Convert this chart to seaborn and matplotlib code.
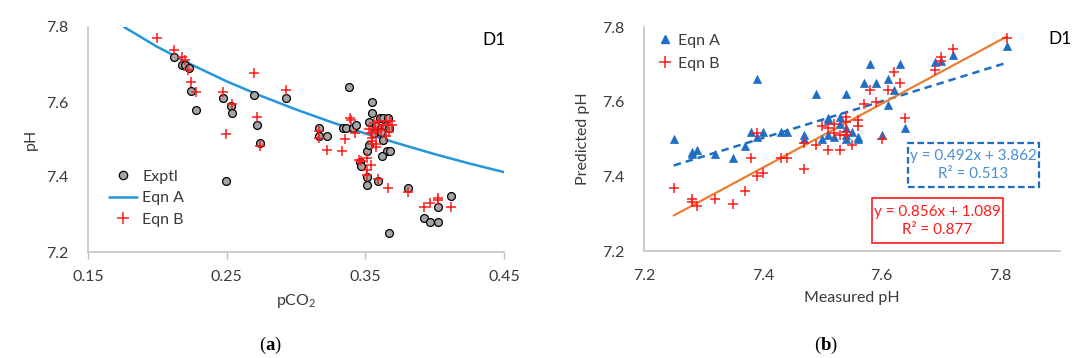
import matplotlib
matplotlib.use("Agg")
import matplotlib.pyplot as plt
import seaborn as sns
from matplotlib.patches import Rectangle
from matplotlib.lines import Line2D

# (a) pH vs pCO2
exptl_pco2 = [0.212, 0.2176, 0.2196, 0.223, 0.224, 0.228, 0.247, 0.253, 0.254, 0.2495,
              0.270, 0.272, 0.274, 0.293, 0.3166, 0.3166, 0.322, 0.334, 0.336, 0.3385,
              0.341, 0.343, 0.346, 0.347, 0.351, 0.351, 0.351, 0.353, 0.353, 0.3545,
              0.355, 0.3605, 0.363, 0.3665, 0.358, 0.361, 0.364, 0.367, 0.356, 0.361,
              0.363, 0.3655, 0.368, 0.362, 0.359, 0.367, 0.381, 0.392, 0.3966, 0.4026,
              0.4026, 0.4118]
exptl_ph = [7.72, 7.70, 7.70, 7.69, 7.63, 7.58, 7.61, 7.59, 7.57, 7.39,
            7.62, 7.54, 7.49, 7.61, 7.53, 7.51, 7.51, 7.53, 7.53, 7.64,
            7.53, 7.54, 7.44, 7.43, 7.40, 7.38, 7.47, 7.486, 7.546, 7.60,
            7.57, 7.558, 7.558, 7.558, 7.535, 7.53, 7.535, 7.53, 7.518, 7.521,
            7.50, 7.47, 7.47, 7.457, 7.389, 7.25, 7.37, 7.29, 7.28, 7.28,
            7.32, 7.35]

eqnb_pco2 = [0.1998, 0.212, 0.218, 0.2196, 0.222, 0.224, 0.228, 0.247, 0.2536, 0.2495,
             0.270, 0.272, 0.274, 0.293, 0.3166, 0.3166, 0.322, 0.3334, 0.335, 0.339,
             0.340, 0.3425, 0.3456, 0.347, 0.351, 0.354, 0.351, 0.351, 0.353, 0.354,
             0.355, 0.3545, 0.355, 0.358, 0.358, 0.356, 0.357, 0.358, 0.360, 0.361,
             0.363, 0.365, 0.366, 0.367, 0.368, 0.369, 0.365, 0.359, 0.3665, 0.381,
             0.392, 0.3966, 0.4026, 0.4026, 0.4118]
eqnb_ph = [7.771, 7.738, 7.719, 7.712, 7.685, 7.654, 7.628, 7.626, 7.594, 7.515,
           7.678, 7.56, 7.482, 7.632, 7.522, 7.504, 7.471, 7.469, 7.501, 7.557,
           7.551, 7.517, 7.446, 7.442, 7.45, 7.433, 7.418, 7.406, 7.528, 7.517,
           7.504, 7.497, 7.488, 7.488, 7.48, 7.545, 7.53, 7.52, 7.55, 7.525,
           7.54, 7.55, 7.54, 7.52, 7.55, 7.54, 7.51, 7.395, 7.371, 7.36,
           7.32, 7.33, 7.344, 7.338, 7.32]

eqna_pco2 = [0.176, 0.20, 0.225, 0.25, 0.275, 0.30, 0.325, 0.35, 0.375, 0.40, 0.425, 0.45]
eqna_ph = [7.800, 7.747, 7.699, 7.655, 7.616, 7.580, 7.547, 7.516, 7.488, 7.461, 7.436, 7.413]

# (b) predicted vs measured
meas_a = [7.25, 7.28, 7.28, 7.29, 7.32, 7.35, 7.37, 7.38, 7.39, 7.39,
          7.40, 7.43, 7.44, 7.47, 7.47, 7.49, 7.50, 7.51, 7.51, 7.51,
          7.52, 7.53, 7.53, 7.54, 7.54, 7.54, 7.54, 7.55, 7.56, 7.56,
          7.57, 7.58, 7.59, 7.60, 7.61, 7.61, 7.62, 7.63, 7.64, 7.69,
          7.70, 7.72, 7.81]
pred_a = [7.50, 7.46, 7.465, 7.47, 7.46, 7.45, 7.48, 7.52, 7.66, 7.505,
          7.52, 7.52, 7.52, 7.51, 7.50, 7.62, 7.50, 7.557, 7.55, 7.51,
          7.505, 7.56, 7.54, 7.62, 7.53, 7.51, 7.50, 7.52, 7.50, 7.505,
          7.65, 7.70, 7.65, 7.51, 7.66, 7.59, 7.63, 7.70, 7.53, 7.705,
          7.71, 7.725, 7.75]

meas_b = [7.25, 7.28, 7.28, 7.29, 7.32, 7.35, 7.37, 7.38, 7.39, 7.39,
          7.40, 7.43, 7.44, 7.47, 7.47, 7.49, 7.50, 7.51, 7.51, 7.52,
          7.52, 7.53, 7.53, 7.54, 7.54, 7.54, 7.54, 7.55, 7.56, 7.56,
          7.57, 7.58, 7.59, 7.60, 7.61, 7.62, 7.63, 7.64, 7.69, 7.70,
          7.70, 7.72, 7.81]
pred_b = [7.37, 7.34, 7.33, 7.32, 7.34, 7.325, 7.36, 7.45, 7.40, 7.515,
          7.41, 7.45, 7.45, 7.42, 7.49, 7.485, 7.535, 7.53, 7.47, 7.515,
          7.54, 7.47, 7.51, 7.56, 7.545, 7.52, 7.51, 7.485, 7.55, 7.535,
          7.595, 7.63, 7.60, 7.50, 7.63, 7.68, 7.65, 7.555, 7.685, 7.72,
          7.71, 7.74, 7.77]

trend_x = [7.25, 7.81]
trend_a = [7.429, 7.704]
trend_b = [7.295, 7.774]

eq_a = "y = 0.492x + 3.862\nR² = 0.513"
eq_b = "y = 0.856x + 1.089\nR² = 0.877"

BLUE_CURVE = "#2596DA"
BLUE = "#1F6EC4"
BLUE_TXT = "#4A8FD4"
ORANGE = "#ED7D31"
RED = "#FF1A1A"
GRID = "#BFBFBF"
TXT = "#3A3A3A"

sns.set_theme(style="white")
plt.rcParams["font.family"] = ["Lato", "DejaVu Sans"]
plt.rcParams["mathtext.fontset"] = "custom"
plt.rcParams["mathtext.rm"] = "Lato"
plt.rcParams["mathtext.it"] = "Lato:italic"
plt.rcParams["mathtext.bf"] = "Liberation Serif:bold"

FS = 11.5

fig = plt.figure(figsize=(10.8, 3.58), dpi=100)
ax1 = fig.add_axes([88 / 1080, 1 - 252 / 358, 416 / 1080, 225 / 358])
ax2 = fig.add_axes([644 / 1080, 1 - 251 / 358, 416 / 1080, 224 / 358])

# ---- panel (a)
sns.lineplot(x=eqna_pco2, y=eqna_ph, ax=ax1, color=BLUE_CURVE, lw=1.8, zorder=2)
sns.scatterplot(x=exptl_pco2, y=exptl_ph, ax=ax1, marker="o", s=32, color="#A5A5A5",
                edgecolor="black", linewidth=0.9, zorder=3)
sns.scatterplot(x=eqnb_pco2, y=eqnb_ph, ax=ax1, marker="+", s=45, color=RED,
                linewidth=1.1, zorder=4)
ax1.set_xlim(0.15, 0.45)
ax1.set_ylim(7.2, 7.8)
ax1.set_xticks([0.15, 0.25, 0.35, 0.45])
ax1.set_xticklabels(["0.15", "0.25", "0.35", "0.45"])
ax1.set_yticks([7.2, 7.4, 7.6, 7.8])
ax1.set_yticklabels(["7.2", "7.4", "7.6", "7.8"])
ax1.set_xlabel("pCO$_2$", fontsize=FS, color=TXT, labelpad=6)
ax1.set_ylabel("pH", fontsize=FS, color=TXT, labelpad=6)
ax1.tick_params(axis="x", length=5, width=1, color=GRID, pad=8, labelsize=FS, labelcolor=TXT, direction="out", bottom=True)
ax1.tick_params(axis="y", length=0, pad=14, labelsize=FS, labelcolor=TXT)
ax1.text(0.443, 7.765, "D1", fontsize=12.5, color="black", ha="center", va="center")

h1 = [Line2D([], [], marker="o", ls="", mfc="#A5A5A5", mec="black", ms=6, mew=0.9),
      Line2D([], [], color=BLUE_CURVE, lw=1.8),
      Line2D([], [], marker="+", ls="", color=RED, ms=8, mew=1.1)]
ax1.legend(h1, ["Exptl", "Eqn A", "Eqn B"], loc="upper left", bbox_to_anchor=(0.05, 0.365),
           frameon=False, fontsize=FS, handlelength=1.75, handletextpad=0.35,
           labelspacing=0.45, borderpad=0, borderaxespad=0, labelcolor=TXT)

# ---- panel (b)
sns.lineplot(x=trend_x, y=trend_a, ax=ax2, color=BLUE, lw=1.8, linestyle=(0, (3, 2)), zorder=2)
sns.lineplot(x=trend_x, y=trend_b, ax=ax2, color=ORANGE, lw=1.6, zorder=2)
sns.scatterplot(x=meas_a, y=pred_a, ax=ax2, marker="^", s=34, color=BLUE,
                edgecolor=BLUE, linewidth=0.5, zorder=3)
sns.scatterplot(x=meas_b, y=pred_b, ax=ax2, marker="+", s=45, color=RED,
                linewidth=1.1, zorder=4)
ax2.set_xlim(7.2, 7.9)
ax2.set_ylim(7.2, 7.8)
ax2.set_xticks([7.2, 7.4, 7.6, 7.8])
ax2.set_xticklabels(["7.2", "7.4", "7.6", "7.8"])
ax2.set_yticks([7.2, 7.4, 7.6, 7.8])
ax2.set_yticklabels(["7.2", "7.4", "7.6", "7.8"])
ax2.set_xlabel("Measured pH", fontsize=FS, color=TXT, labelpad=6)
ax2.set_ylabel("Predicted pH", fontsize=FS, color=TXT, labelpad=9)
ax2.tick_params(axis="x", length=0, pad=13, labelsize=FS, labelcolor=TXT)
ax2.tick_params(axis="y", length=0, pad=14, labelsize=FS, labelcolor=TXT)
ax2.text(7.9, 7.768, "D1", fontsize=12.5, color="black", ha="center", va="center")

h2 = [Line2D([], [], marker="^", ls="", color=BLUE, ms=6),
      Line2D([], [], marker="+", ls="", color=RED, ms=8, mew=1.1)]
ax2.legend(h2, ["Eqn A", "Eqn B"], loc="upper left", bbox_to_anchor=(0.035, 0.97),
           frameon=False, fontsize=FS, handlelength=0.8, handletextpad=0.4,
           labelspacing=0.55, borderpad=0, borderaxespad=0, labelcolor=TXT)

# equation boxes
ax2.add_patch(Rectangle((0.634, 0.286), 0.315, 0.196, transform=ax2.transAxes, fill=False,
                        edgecolor=BLUE, lw=1.6, linestyle=(0, (3, 1.5)), zorder=5))
ax2.text(0.792, 0.384, eq_a, transform=ax2.transAxes, ha="center", va="center",
         fontsize=11, color=BLUE_TXT, linespacing=1.35, zorder=6)
ax2.add_patch(Rectangle((0.548, 0.036), 0.315, 0.201, transform=ax2.transAxes, fill=False,
                        edgecolor=RED, lw=1.2, zorder=5))
ax2.text(0.705, 0.134, eq_b, transform=ax2.transAxes, ha="center", va="center",
         fontsize=11, color=RED, linespacing=1.35, zorder=6)

for ax in (ax1, ax2):
    sns.despine(ax=ax)
    for side in ("left", "bottom"):
        ax.spines[side].set_color(GRID)
        ax.spines[side].set_linewidth(1.1)
    ax.grid(False)

fig.text(270 / 1080, 1 - 345 / 358, r"($\mathbf{a}$)", family="Liberation Serif",
         fontsize=13.5, ha="center", va="center", color="black")
fig.text(826 / 1080, 1 - 345 / 358, r"($\mathbf{b}$)", family="Liberation Serif",
         fontsize=13.5, ha="center", va="center", color="black")

fig.savefig("out.png", dpi=100)
